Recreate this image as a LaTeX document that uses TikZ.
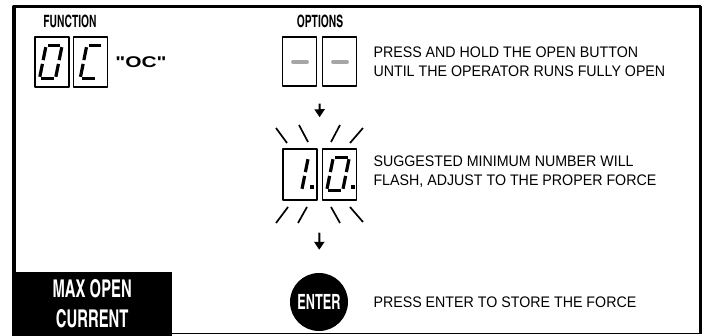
\documentclass[tikz,border=0pt]{standalone}
\usepackage{fontspec}
\setmainfont{Liberation Sans}
\newfontfamily\condfont{TeX Gyre Heros Cn}[FakeStretch=0.74]
\newfontfamily\notefont{Liberation Sans}[FakeStretch=0.93]
\newfontfamily\ocfont{Liberation Sans}[FakeStretch=1.35]
\usetikzlibrary{positioning,calc,arrows.meta}

\begin{document}
\begin{tikzpicture}[
    x=1pt, y=-1pt,
    >={Triangle[width=10pt,length=8pt]},
    line join=round,
    digbox/.style={draw, line width=1.5pt, minimum width=34pt, minimum height=50pt, inner sep=0pt},
    segline/.style={line width=3.2pt, line cap=butt},
    seg a/.style={insert path={(-6.3,-16.5) -- (6.3,-16.5)}},
    seg b/.style={insert path={(8,-14.8) -- (8,-1.9)}},
    seg c/.style={insert path={(8,1.9) -- (8,14.8)}},
    seg d/.style={insert path={(-6.3,16.5) -- (6.3,16.5)}},
    seg e/.style={insert path={(-8,1.9) -- (-8,14.8)}},
    seg f/.style={insert path={(-8,-14.8) -- (-8,-1.9)}},
    heading/.style={font=\condfont\bfseries\fontsize{17}{18}\selectfont},
    note/.style={anchor=west, align=left, font=\notefont\fontsize{15.3}{19}\selectfont},
    flow/.style={->, line width=2pt},
    ray/.style={line width=1.7pt}
]

\useasboundingbox (0,0) rectangle (708,336);

% ========= Helper: seven segment digit =========
% args: x, y, segments
\newcommand{\segdigit}[3]{
    \begin{scope}[shift={(#1,#2)}, xslant=0.2]
        \foreach \s in {#3} {\draw[segline, seg \s];}
    \end{scope}
}

% ========= Frame =========
\draw[line width=3.5pt] (14,274) -- (14,6.5) -- (700.5,6.5) -- (700.5,333);
\draw[line width=1.3pt] (172,333.5) -- (702,333.5);
\node[fill=black, text=white, minimum width=160pt, minimum height=64pt, inner sep=0pt,
      anchor=north west, align=center, font=\condfont\bfseries\fontsize{24.5}{30}\selectfont]
      (maxbox) at (12,272) {MAX OPEN\\CURRENT};

% ========= Function =========
\node[heading] (funlbl) at (70,21) {FUNCTION};
\node[digbox] (fun1) at (52,62) {};
\node[digbox] (fun2) at (90.5,62) {};
\segdigit{50.8}{62}{a,b,c,d,e,f}
\segdigit{91.5}{62}{a,d,e,f}
\node[font=\ocfont\bfseries\fontsize{15.5}{16}\selectfont] (funcode) at (141,62) {"OC"};

% ========= Options =========
\node[heading] (optlbl) at (320,21) {OPTIONS};
\node[digbox, minimum height=49pt] (opt1) at (299.5,61.5) {};
\node[digbox, minimum height=49pt] (opt2) at (339.5,61.5) {};
\draw[gray!70, line width=3.8pt, line cap=round] (293,62) -- (307,62);
\draw[gray!70, line width=3.8pt, line cap=round] (333,62) -- (347,62);
\node[note] (opttxt) at (370,61.5) {PRESS AND HOLD THE OPEN BUTTON\\UNTIL THE OPERATOR RUNS FULLY OPEN};

% ========= Flashing value =========
\node[digbox, minimum height=51pt] (fl1) at (300,174.5) {};
\node[digbox, minimum height=51pt] (fl2) at (339.5,174.5) {};
\segdigit{297}{174}{b,c}
\segdigit{338}{174}{a,b,c,d,e,f}
\fill (309.5,185) rectangle (313.5,189);
\fill (350.5,185) rectangle (354.5,189);
\foreach \xa/\ya/\xb/\yb in {276/128/287/143, 299/125/308/142, 331/142/340/125, 350/143/363/128,
                             276/223/288/207, 298/223/307/207, 331/207/340/223, 350/207/363/222}
{
    \draw[ray] (\xa,\ya) -- (\xb,\yb);
}
\node[note] (fltxt) at (370,172) {SUGGESTED MINIMUM NUMBER WILL\\FLASH, ADJUST TO THE PROPER FORCE};

% ========= Enter =========
\node[circle, fill=black, text=white, minimum size=58pt, inner sep=0pt,
      font=\condfont\bfseries\fontsize{21}{22}\selectfont] (enter) at (319,302) {ENTER};
\node[note] (entxt) at (370,302) {PRESS ENTER TO STORE THE FORCE};

% ========= Arrows =========
\draw[flow, shorten <=17pt, shorten >=31pt] ($(opt1.south)!.5!(opt2.south)$) -- ($(fl1.north)!.5!(fl2.north)$);
\draw[flow, shorten <=32pt, shorten >=23pt] ($(fl1.south)!.5!(fl2.south)$) -- (enter.north);

\end{tikzpicture}
\end{document}
